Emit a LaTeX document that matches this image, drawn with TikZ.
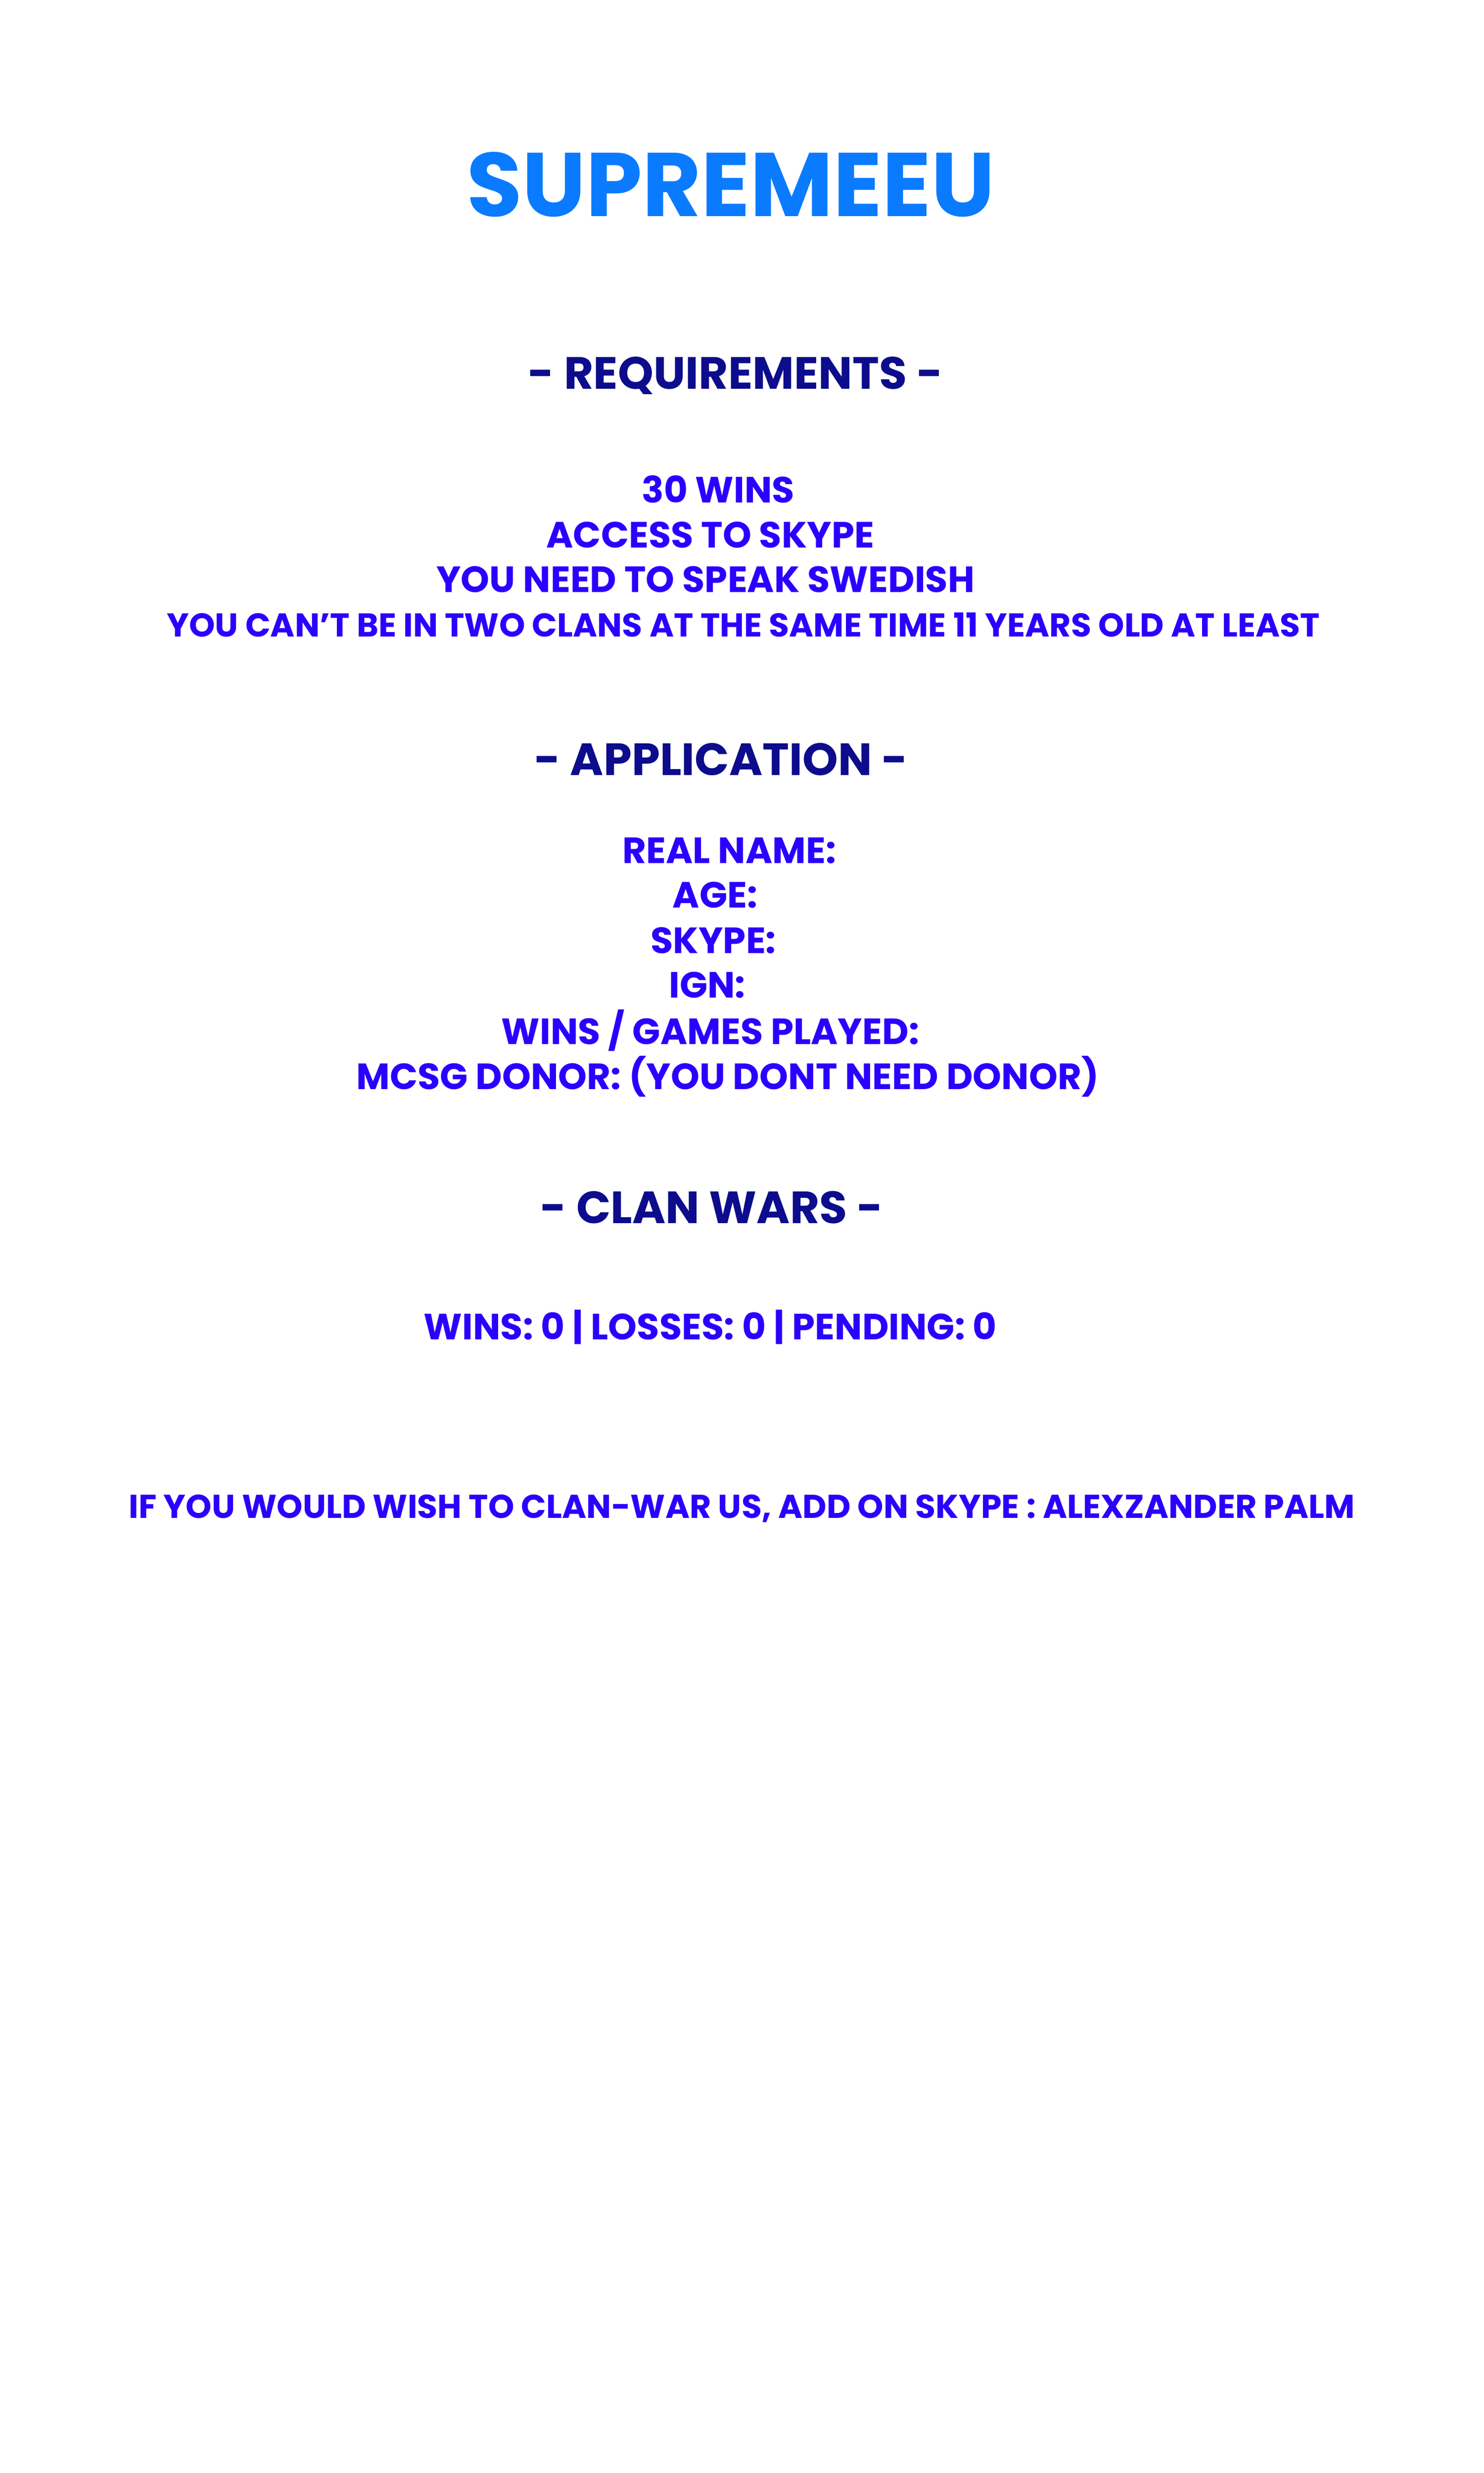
\documentclass[tikz,border=0pt]{standalone}
\usepackage{fontspec}
\setmainfont{Poppins}[UprightFont=* Bold]
\definecolor{ttl}{HTML}{0A7BFF}
\definecolor{hdr}{HTML}{0C0C8C}
\definecolor{txt}{HTML}{2A00FF}
\begin{document}
\begin{tikzpicture}[x=0.0319cm,y=-0.0319cm,
  ttlS/.style={text=ttl,font=\fontsize{52}{60}\selectfont,inner sep=0},
  hdrS/.style={text=hdr,font=\fontsize{26}{30}\selectfont,inner sep=0},
  txtS/.style={text=txt,font=\fontsize{21}{25}\selectfont,inner sep=0}]
\useasboundingbox (0,0) rectangle (940,1567);
\node[ttlS] (t) at (463,117) {SUPREMEEU};
\node[hdrS] (h1) at (466,238) {- REQUIREMENTS -};
\node[txtS] (r1) at (455,310) {30 WINS};
\node[txtS] (r2) at (450,339) {ACCESS TO SKYPE};
\node[txtS] (r3) at (447,367) {YOU NEED TO SPEAK SWEDISH};
\node[txtS,font=\fontsize{19}{23}\selectfont] (r4) at (471,396) {YOU CAN'T BE IN TWO CLANS AT THE SAME TIME 11 YEARS OLD AT LEAST};
\node[hdrS] (h2) at (457,481) {- APPLICATION -};
\node[txtS] (a1) at (462,539) {REAL NAME:};
\node[txtS] (a2) at (453,567) {AGE:};
\node[txtS] (a3) at (452,596) {SKYPE:};
\node[txtS] (a4) at (448,624) {IGN:};
\node[txtS] (a5) at (450,653) {WINS / GAMES PLAYED:};
\node[txtS] (a6) at (461,682) {MCSG DONOR: (YOU DONT NEED DONOR)};
\node[hdrS] (h3) at (451,765) {- CLAN WARS -};
\node[txtS] (w) at (450,841) {WINS: 0 | LOSSES: 0 | PENDING: 0};
\node[txtS,font=\fontsize{19}{23}\selectfont] (c) at (470,956) {IF YOU WOULD WISH TO CLAN-WAR US, ADD ON SKYPE : ALEXZANDER PALM};
\end{tikzpicture}
\end{document}
